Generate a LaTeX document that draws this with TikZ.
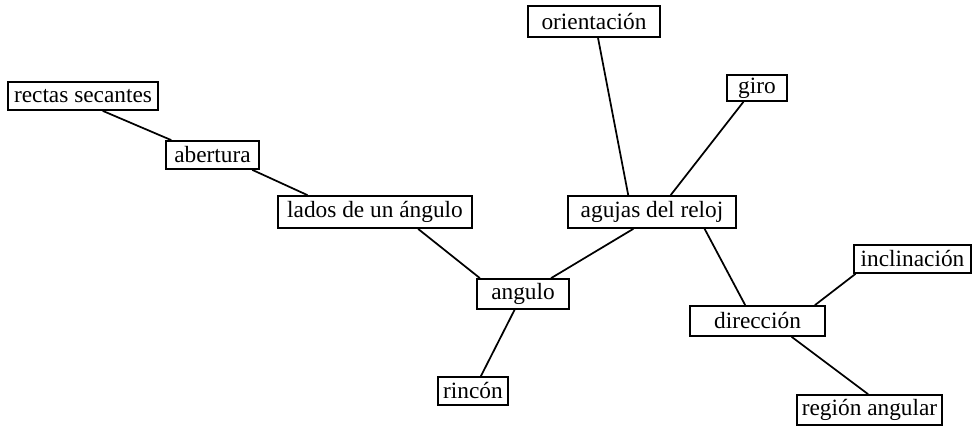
\documentclass[tikz,border=0pt]{standalone}
\usepackage{fontspec}
\setmainfont{Liberation Serif}
\usetikzlibrary{calc}
\begin{document}
\begin{tikzpicture}[x=0.75pt,y=-0.75pt,
  box/.style={draw, line width=1.3pt, inner sep=0pt, font=\fontsize{17.5}{20}\selectfont},
  link/.style={line width=1.3pt}]
\useasboundingbox (0,0) rectangle (972,427);
\node[box, minimum width=112.5pt, minimum height=21pt]  (rs) at (83,96)     {rectas secantes};
\node[box, minimum width=69.75pt, minimum height=21pt]  (ab) at (212.5,155) {abertura};
\node[box, minimum width=145.5pt, minimum height=24pt]  (la) at (375,212)   {lados de un ángulo};
\node[box, minimum width=69pt, minimum height=22.5pt]   (an) at (523,294)   {angulo};
\node[box, minimum width=52.5pt, minimum height=21pt]   (ri) at (473,391)   {rincón};
\node[box, minimum width=126pt, minimum height=24pt]    (ag) at (652,212)   {agujas del reloj};
\node[box, minimum width=99pt, minimum height=23.25pt]  (or) at (594,21.5)  {orientación};
\node[box, minimum width=45pt, minimum height=19.5pt]   (gi) at (757,88)    {giro};
\node[box, minimum width=87.75pt, minimum height=21pt]  (in) at (912.5,259) {inclinación};
\node[box, minimum width=101.25pt, minimum height=22.5pt] (di) at (757.5,321) {dirección};
\node[box, minimum width=108.75pt, minimum height=22.5pt] (re) at (869.5,410) {región angular};

\draw[link] ($(rs.south west)!0.63!(rs.south east)$) -- ($(ab.north west)!0.065!(ab.north east)$);
\draw[link] ($(ab.south west)!0.92!(ab.south east)$) -- ($(la.north west)!0.155!(la.north east)$);
\draw[link] ($(la.south west)!0.72!(la.south east)$) -- ($(an.north west)!0.04!(an.north east)$);
\draw[link] ($(an.north west)!0.8!(an.north east)$) -- ($(ag.south west)!0.39!(ag.south east)$);
\draw[link] ($(an.south west)!0.41!(an.south east)$) -- ($(ri.north west)!0.61!(ri.north east)$);
\draw[link] ($(or.south west)!0.53!(or.south east)$) -- ($(ag.north west)!0.36!(ag.north east)$);
\draw[link] ($(gi.south west)!0.28!(gi.south east)$) -- ($(ag.north west)!0.61!(ag.north east)$);
\draw[link] ($(ag.south west)!0.81!(ag.south east)$) -- ($(di.north west)!0.41!(di.north east)$);
\draw[link] ($(di.north west)!0.92!(di.north east)$) -- ($(in.south west)!0.02!(in.south east)$);
\draw[link] ($(di.south west)!0.75!(di.south east)$) -- ($(re.north west)!0.49!(re.north east)$);
\end{tikzpicture}
\end{document}
